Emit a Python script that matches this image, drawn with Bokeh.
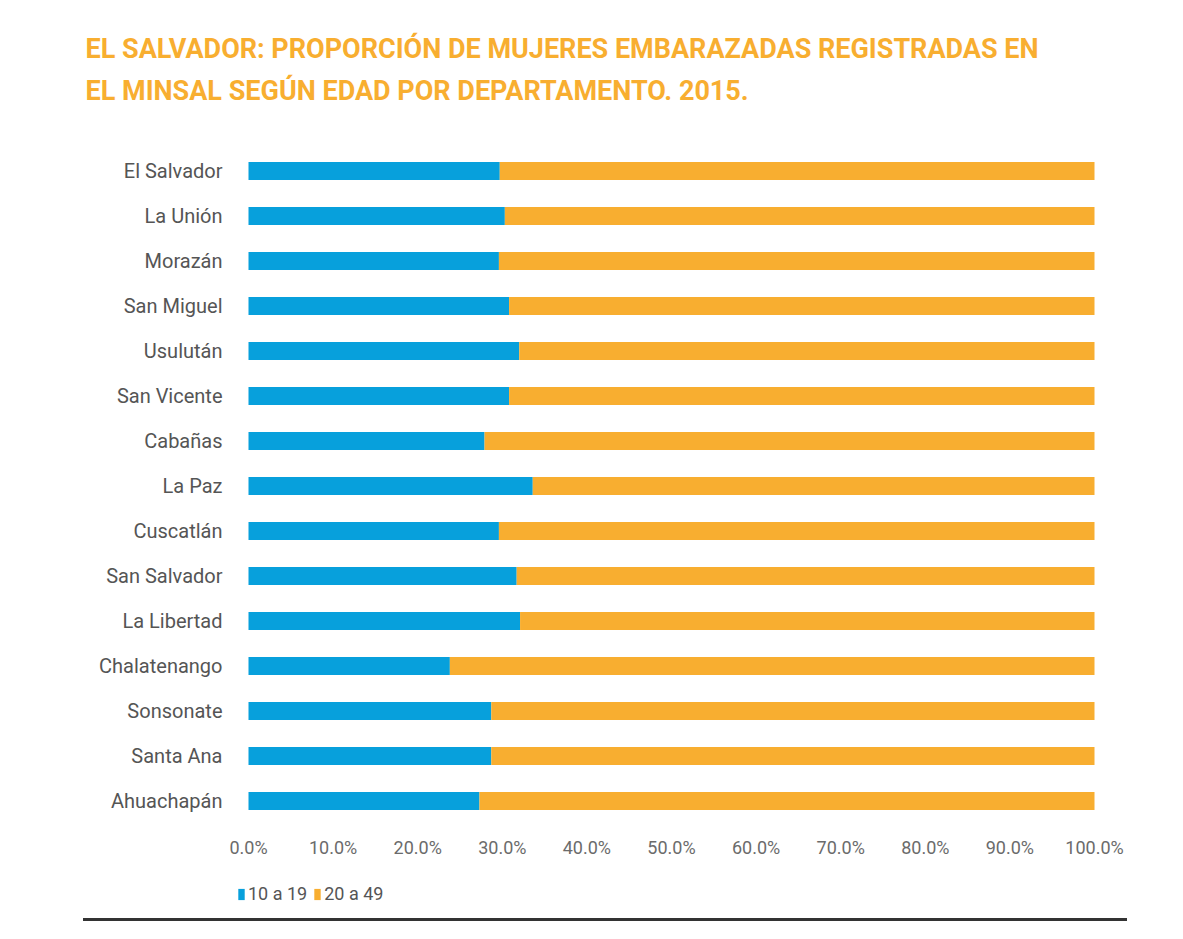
from bokeh.plotting import figure
from bokeh.models import (FactorRange, Range1d, NumeralTickFormatter, FixedTicker,
                          Legend, LegendItem, Div)
from bokeh.layouts import column
from bokeh.embed import file_html
from bokeh.resources import INLINE

departamentos = ["El Salvador", "La Unión", "Morazán", "San Miguel", "Usulután",
                 "San Vicente", "Cabañas", "La Paz", "Cuscatlán", "San Salvador",
                 "La Libertad", "Chalatenango", "Sonsonate", "Santa Ana", "Ahuachapán"]
edad_10_19 = [0.297, 0.303, 0.296, 0.308, 0.320, 0.308, 0.279, 0.336, 0.296,
              0.317, 0.321, 0.238, 0.287, 0.287, 0.273]
edad_20_49 = [0.703, 0.697, 0.704, 0.692, 0.680, 0.692, 0.721, 0.664, 0.704,
              0.683, 0.679, 0.762, 0.713, 0.713, 0.727]
ticks = [0.0, 0.1, 0.2, 0.3, 0.4, 0.5, 0.6, 0.7, 0.8, 0.9, 1.0]
series_names = ["10 a 19", "20 a 49"]
colors = ["#07A0DC", "#F8AE30"]
title_lines = ["EL SALVADOR: PROPORCIÓN DE MUJERES EMBARAZADAS REGISTRADAS EN",
               "EL MINSAL SEGÚN EDAD POR DEPARTAMENTO. 2015."]

# two empty rows below the bars leave room for the axis labels and the legend
spacer_rows = [" ", "  "]
factors = spacer_rows + list(reversed(departamentos))

# frame spans 222..1130 px, so 0..1 maps to 248..1094 px
unit_px = 846
pad_left_px, pad_right_px = 26, 36
frame_left = 222

p = figure(frame_width=unit_px + pad_left_px + pad_right_px, frame_height=45 * len(factors),
           output_backend="svg", toolbar_location=None,
           y_range=FactorRange(factors=factors, range_padding=0),
           x_range=Range1d(-pad_left_px / unit_px, 1 + pad_right_px / unit_px),
           min_border_left=frame_left, min_border_right=1183 - frame_left - unit_px - pad_left_px - pad_right_px,
           min_border_top=148, min_border_bottom=0, margin=(-11, 0, 0, 0))
p.outline_line_color = None
p.xgrid.grid_line_color = None
p.ygrid.grid_line_color = None

data = dict(dep=departamentos, a=edad_10_19, b=edad_20_49)
r = p.hbar_stack(["a", "b"], y="dep", height=0.4, color=colors, source=data,
                 line_color=None)

p.xaxis.fixed_location = float(len(spacer_rows))
p.xaxis.ticker = FixedTicker(ticks=ticks)
p.xaxis.formatter = NumeralTickFormatter(format="0.0%")
p.xaxis.axis_line_color = None
p.xaxis.major_tick_line_color = None
p.xaxis.minor_tick_line_color = None
p.xaxis.major_tick_out = 0
p.xaxis.major_tick_in = 0
p.xaxis.major_label_standoff = 13
p.xaxis.major_label_text_font = "Roboto"
p.xaxis.major_label_text_font_size = "18px"
p.xaxis.major_label_text_color = "#6b6b6b"

p.yaxis.axis_line_color = None
p.yaxis.major_tick_line_color = None
p.yaxis.minor_tick_line_color = None
p.yaxis.major_tick_out = 0
p.yaxis.major_tick_in = 0
p.yaxis.major_label_standoff = 0
p.yaxis.major_label_text_font = "Roboto"
p.yaxis.major_label_text_font_size = "20px"
p.yaxis.major_label_text_color = "#555555"

p.title.text = "\n".join(title_lines)
p.title.align = "left"
p.title.offset = 85 - frame_left
p.title.standoff = 83
p.title.text_font = "Roboto"
p.title.text_font_style = "bold"
p.title.text_font_size = "27px"
p.title.text_line_height = 1.3
p.title.text_color = "#F8AE30"

legend = Legend(items=[LegendItem(label=series_names[i], renderers=[r[i]]) for i in range(2)],
                orientation="horizontal", location=(237 - frame_left, 9),
                padding=0, margin=0, spacing=6, glyph_width=8, glyph_height=14,
                label_standoff=3, label_text_font="Roboto", label_text_font_size="18px",
                label_text_color="#555555", border_line_color=None,
                background_fill_alpha=0, label_height=20)
p.add_layout(legend, "center")

line = Div(text="", width=1044, height=3, margin=(5, 0, 0, 83),
           styles={"background-color": "#333333"})

open("out.html", "w").write(file_html(column(p, line, spacing=0), INLINE))
